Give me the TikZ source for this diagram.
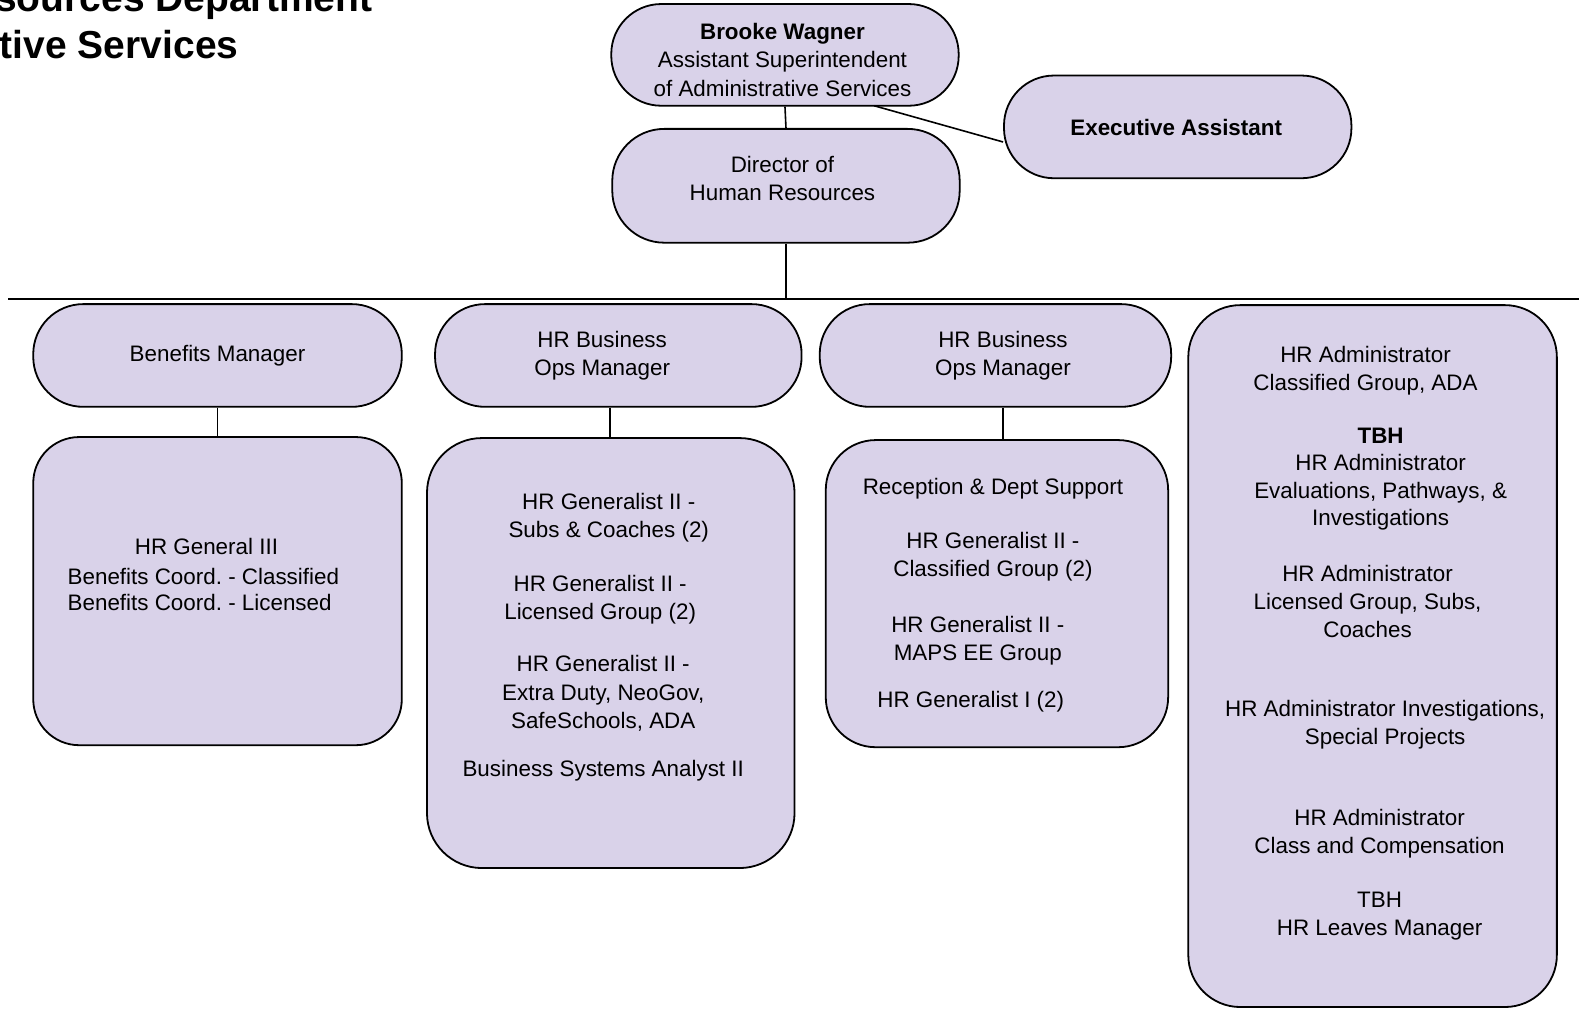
\documentclass[tikz,border=0pt]{standalone}
\usepackage{fontspec}
\setmainfont{Liberation Sans}
\usetikzlibrary{fit,calc}
\definecolor{boxfill}{HTML}{D9D2E9}
\frenchspacing
\begin{document}
\begin{tikzpicture}[x=1.007pt,y=-1.007pt,
  box/.style={draw=black, line width=1.8pt, fill=boxfill, inner sep=0pt},
  pill/.style={box, rounded corners=50pt},
  panel/.style={box, rounded corners=50pt},
  txt/.style={align=center, inner sep=0pt, text=black, font=\fontsize{22.4}{28.2}\selectfont},
  conn/.style={draw=black, line width=1.6pt},
  ttl/.style={inner sep=0pt, anchor=base east, font=\bfseries\fontsize{39}{45}\selectfont}]
\useasboundingbox (0,0) rectangle (1568,1003);
\begin{scope}
\clip (0,0) rectangle (1568,1003);
\node[ttl] (title1) at (370,11) {sources Department};
\node[ttl] (title2) at (237,58) {tive Services};
\end{scope}

% top level
\node[pill, fit={(607,4) (952,105)}] (brooke) {};
\node[box, rounded corners=52pt, fit={(608,128) (953,241)}] (director) {};
\node[pill, fit={(997,75) (1342,177)}] (exec) {};

% second row
\node[pill, fit={(33,302) (399,404)}] (benmgr) {};
\node[pill, fit={(432,302) (796,404)}] (opsA) {};
\node[pill, fit={(814,302) (1163,404)}] (opsB) {};
\node[panel, rounded corners=52pt, fit={(1180,303) (1546,1000)}] (admin) {};

% third row
\node[panel, rounded corners=46pt, fit={(33,434) (399,740)}] (bendet) {};
\node[panel, rounded corners=55pt, fit={(424,435) (789,862)}] (opsAdet) {};
\node[panel, rounded corners=50pt, fit={(820,437) (1160,742)}] (opsBdet) {};

% connectors
\coordinate (busL) at (8,297);
\coordinate (busR) at (1568,297);
\coordinate (bx) at (868,105);
\draw[conn] (brooke.south) -- (director.north);
\draw[conn] (bx) -- ($(exec.west)+(0,15)$);
\draw[conn] (director.south) -- (director.south |- busL);
\draw[conn] (busL) -- (busR);
\draw[conn] (benmgr.south -| 216,0) -- (bendet.north -| 216,0);
\draw[conn] (opsA.south -| 606,0) -- (opsAdet.north -| 606,0);
\draw[conn] (opsB.south -| 996,0) -- (opsBdet.north -| 996,0);

% texts
\node[txt] (t-brooke) at (777,59.5) {{\bfseries Brooke Wagner}\\Assistant Superintendent\\of Administrative Services};
\node[txt] (t-director) at (777,177) {Director of\\Human Resources};
\node[txt] (t-exec) at (1168,126.5) {\bfseries Executive Assistant};
\node[txt] (t-benmgr) at (216,353) {Benefits Manager};
\node[txt] (t-opsA) at (598,353) {HR Business\\Ops Manager};
\node[txt] (t-opsB) at (996,353) {HR Business\\Ops Manager};

\node[txt] (t-ben1) at (205,542.5) {HR General III};
\node[txt, anchor=west, align=left, font=\fontsize{22.4}{26.5}\selectfont] (t-ben2) at (67,585.5) {Benefits Coord. - Classified\\Benefits Coord. - Licensed};

\node[txt] (t-a1) at (604.5,514) {HR Generalist II -\\Subs \& Coaches (2)};
\node[txt] (t-a2) at (596,595.5) {HR Generalist II -\\Licensed Group (2)};
\node[txt] (t-a3) at (599,688.5) {HR Generalist II -\\Extra Duty, NeoGov,\\SafeSchools, ADA};
\node[txt] (t-a4) at (599,765.5) {Business Systems Analyst II};

\node[txt] (t-b1) at (986,485.5) {Reception \& Dept Support};
\node[txt] (t-b2) at (986,552.5) {HR Generalist II -\\Classified Group (2)};
\node[txt] (t-b3) at (971,636.5) {HR Generalist II -\\MAPS EE Group};
\node[txt] (t-b4) at (964,696.5) {HR Generalist I (2)};

\node[txt] (t-c1) at (1356,368) {HR Administrator\\Classified Group, ADA};
\node[txt, font=\fontsize{22.4}{27.5}\selectfont] (t-c2) at (1371,476) {{\bfseries TBH}\\HR Administrator\\Evaluations, Pathways, \&\\Investigations};
\node[txt] (t-c3) at (1358,597.5) {HR Administrator\\Licensed Group, Subs,\\Coaches};
\node[txt] (t-c4) at (1375.5,720) {HR Administrator Investigations,\\Special Projects};
\node[txt] (t-c5) at (1370,827.5) {HR Administrator\\Class and Compensation};
\node[txt] (t-c6) at (1370,909.5) {TBH\\HR Leaves Manager};
\end{tikzpicture}
\end{document}
